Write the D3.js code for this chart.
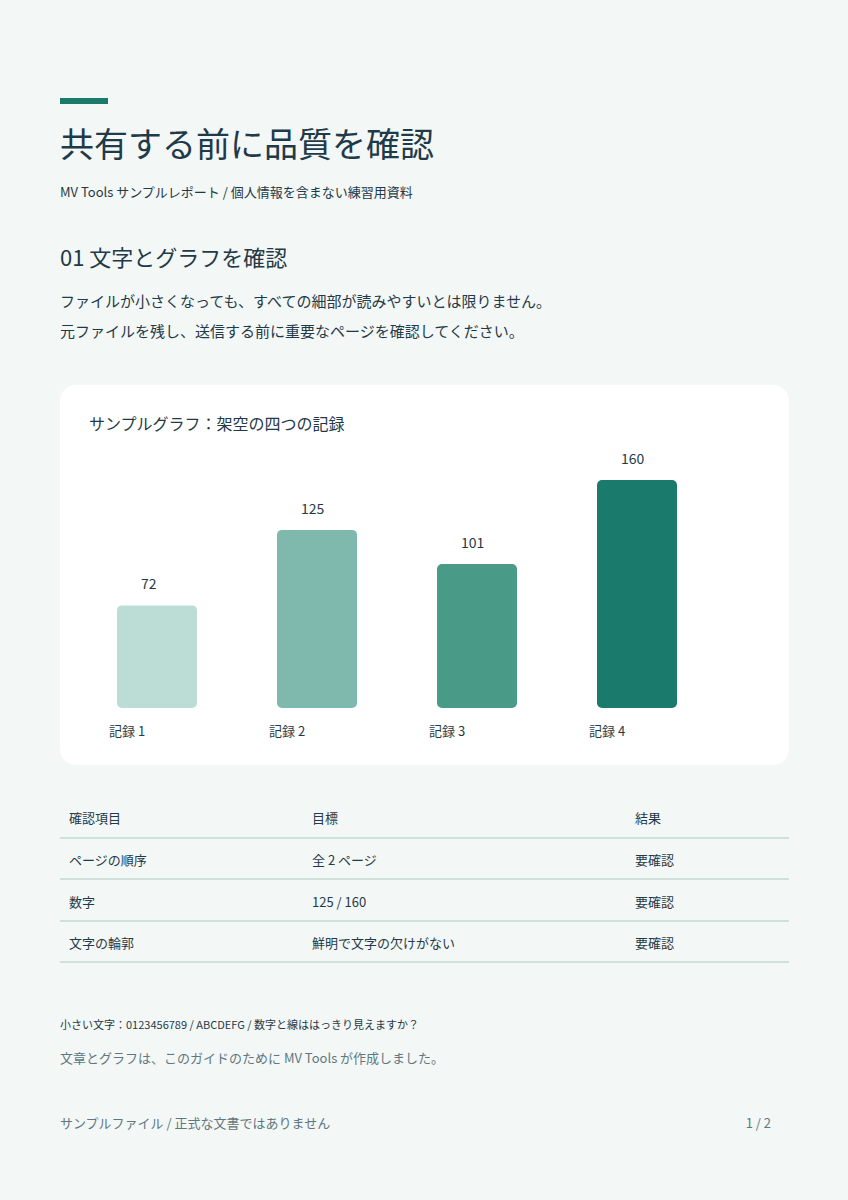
<!DOCTYPE html>
<html><head><meta charset="utf-8">
<script src="https://cdn.jsdelivr.net/npm/d3@7/dist/d3.min.js"></script>
<style>body{margin:0;background:#f3f7f6}svg{display:block;font-family:"Noto Sans CJK JP","DejaVu Sans",sans-serif}</style>
</head><body><svg id="c" width="848" height="1200"></svg>
<script>
const categories = ["記録 1","記録 2","記録 3","記録 4"];
const values = [72,125,101,160];
const barColors = ["#bcdcd6","#7fb9ae","#4a9a88","#1a7a6c"];
const tableHeader = ["確認項目","目標","結果"];
const tableRows = [["ページの順序","全 2 ページ","要確認"],["数字","125 / 160","要確認"],["文字の輪郭","鮮明で文字の欠けがない","要確認"]];

const svg = d3.select("#c");
const ink = "#1f3a48";
svg.append("rect").attr("width",848).attr("height",1200).attr("fill","#f3f7f6");
svg.append("rect").attr("x",60).attr("y",98).attr("width",48).attr("height",6).attr("fill","#1a7a6c");
const T=(x,y,s,t,o={})=>svg.append("text").attr("x",x).attr("y",y).attr("font-size",s).attr("fill",o.fill||ink).attr("text-anchor",o.anchor||"start").text(t);
T(60,157,34,"共有する前に品質を確認");
T(60,197,13,"MV Tools サンプルレポート / 個人情報を含まない練習用資料");
T(60,266,22,"01  文字とグラフを確認");
T(60,307,15,"ファイルが小さくなっても、すべての細部が読みやすいとは限りません。");
T(60,337,15,"元ファイルを残し、送信する前に重要なページを確認してください。");

svg.append("rect").attr("x",60).attr("y",385).attr("width",729).attr("height",380).attr("rx",16).attr("fill","#ffffff");
T(89,430,16,"サンプルグラフ：架空の四つの記録");
const x = d3.scaleBand().domain(categories).range([77,717]).paddingInner(0.5).paddingOuter(0.25);
const y = d3.scaleLinear().domain([0,160]).range([708,480]);
const g = svg.append("g");
g.selectAll("rect.b").data(values).join("rect").attr("class","b")
 .attr("x",(d,i)=>x(categories[i])).attr("width",x.bandwidth())
 .attr("y",d=>y(d)).attr("height",d=>y(0)-y(d)).attr("rx",5).attr("fill",(d,i)=>barColors[i]);
g.selectAll("text.v").data(values).join("text").attr("class","v")
 .attr("x",(d,i)=>x(categories[i])+x.bandwidth()/2-16).attr("y",d=>y(d)-16)
 .attr("font-size",14).attr("fill",ink).text(d=>d);
const ax = svg.append("g").attr("transform","translate(0,708)").call(d3.axisBottom(x).tickSize(0).tickPadding(0));
ax.select(".domain").remove();
ax.selectAll("text").attr("font-size",13).attr("fill",ink).attr("text-anchor","start")
 .attr("font-family","\"Noto Sans CJK JP\",sans-serif").attr("dx",-x.bandwidth()/2-8).attr("dy",0).attr("y",28);

const cols=[69,312,635];
tableHeader.forEach((h,i)=>T(cols[i],823,13,h));
[838,879,921,962].forEach(ly=>svg.append("line").attr("x1",60).attr("x2",789).attr("y1",ly).attr("y2",ly).attr("stroke","#cfe0dc").attr("stroke-width",2));
tableRows.forEach((r,j)=>r.forEach((c,i)=>T(cols[i],865+j*41.5,13,c)));

T(60,1029,11,"小さい文字：0123456789 / ABCDEFG / 数字と線ははっきり見えますか？");
T(60,1063,13,"文章とグラフは、このガイドのために MV Tools が作成しました。",{fill:"#5f7780"});
T(60,1128,13,"サンプルファイル / 正式な文書ではありません",{fill:"#5f7780"});
T(771,1128,13,"1 / 2",{fill:"#5f7780",anchor:"end"});
</script></body></html>
